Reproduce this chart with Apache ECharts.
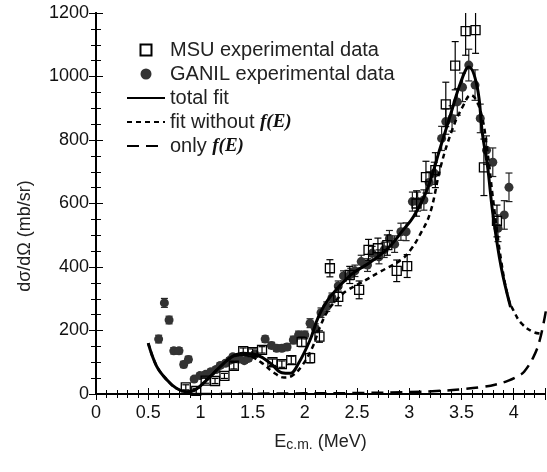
<!DOCTYPE html>
<html>
<head>
<meta charset="utf-8">
<script src="https://cdn.jsdelivr.net/npm/echarts@6/dist/echarts.min.js"></script>
<style>
  html, body { margin: 0; padding: 0; background: #fff; }
  #chart { width: 547px; height: 472px; }
</style>
</head>
<body>
<div id="chart"></div>
<script>
// [E (MeV), dsigma/dOmega (mb/sr), error]
var msuData = [
  [0.86, 21, 8], [0.96, 10, 8], [1.05, 42, 8], [1.14, 41, 8], [1.23, 57, 8],
  [1.32, 89, 10], [1.41, 135, 10], [1.50, 132, 10], [1.59, 139, 10], [1.69, 100, 10],
  [1.78, 94, 10], [1.87, 107, 12], [1.97, 164, 15], [2.05, 113, 15], [2.14, 181, 18],
  [2.24, 396, 27], [2.32, 306, 28], [2.43, 375, 27], [2.52, 328, 28], [2.61, 454, 33],
  [2.70, 459, 32], [2.79, 469, 32], [2.88, 388, 34], [2.98, 403, 36], [3.07, 600, 40],
  [3.16, 683, 50], [3.25, 705, 55], [3.35, 912, 70], [3.44, 1034, 76], [3.54, 1143, 76],
  [3.635, 1146, 73], [3.715, 714, 89], [3.84, 545, 50]
];

var ganilData = [
  [0.60, 173, 12], [0.655, 287, 14], [0.70, 233, 12], [0.745, 136, 10], [0.795, 136, 10],
  [0.84, 93, 10], [0.885, 109, 10], [0.94, 47, 8], [0.995, 58, 8], [1.05, 62, 8],
  [1.10, 70, 8], [1.15, 77, 8], [1.19, 90, 8], [1.24, 97, 8], [1.28, 106, 8],
  [1.31, 117, 8], [1.37, 110, 8], [1.42, 105, 8], [1.46, 112, 8], [1.52, 125, 8],
  [1.62, 173, 10], [1.68, 153, 10], [1.73, 144, 10], [1.78, 144, 10], [1.83, 148, 10],
  [1.89, 170, 12], [1.94, 186, 12], [2.00, 186, 12], [2.05, 223, 14], [2.10, 207, 14],
  [2.155, 256, 15], [2.21, 275, 15], [2.26, 303, 15], [2.32, 340, 16], [2.37, 372, 16],
  [2.44, 378, 18], [2.48, 388, 18], [2.54, 417, 20], [2.60, 406, 20], [2.645, 443, 22],
  [2.71, 432, 22], [2.76, 454, 24], [2.81, 490, 25], [2.86, 472, 26], [2.92, 511, 27],
  [2.97, 511, 28], [3.03, 606, 30], [3.08, 606, 30], [3.14, 611, 32], [3.19, 666, 34],
  [3.24, 695, 35], [3.31, 805, 38], [3.35, 858, 40], [3.41, 868, 40], [3.46, 920, 42],
  [3.51, 966, 45], [3.57, 1036, 50], [3.63, 973, 48], [3.68, 868, 45], [3.74, 768, 45],
  [3.80, 730, 45], [3.85, 522, 42], [3.91, 564, 45], [3.955, 651, 45]
];

var totalFit = [
  [0.50, 160], [0.58, 88], [0.68, 44], [0.77, 18], [0.87, 7], [0.95, 13], [1.06, 44],
  [1.19, 86], [1.30, 117], [1.41, 128], [1.54, 123], [1.67, 97], [1.78, 67], [1.86, 65],
  [1.94, 97], [2.05, 170], [2.13, 243], [2.24, 305], [2.44, 375], [2.63, 416], [2.80, 460],
  [2.94, 516], [3.04, 558], [3.17, 643], [3.30, 779], [3.40, 885], [3.49, 979], [3.57, 1030],
  [3.65, 968], [3.70, 822], [3.75, 716], [3.80, 570], [3.88, 400], [3.97, 274]
];

var fitWithoutF = [
  [0.50, 160], [0.58, 88], [0.68, 44], [0.77, 18], [0.87, 7], [0.95, 13], [1.06, 44],
  [1.19, 86], [1.30, 115], [1.41, 124], [1.50, 116], [1.60, 95], [1.70, 68], [1.80, 52],
  [1.88, 58], [1.97, 88], [2.07, 145], [2.15, 215], [2.22, 262], [2.30, 295], [2.40, 325],
  [2.53, 349], [2.72, 385], [2.92, 422], [3.01, 453], [3.10, 500], [3.20, 570], [3.30, 715],
  [3.41, 831], [3.51, 904], [3.59, 942], [3.68, 894], [3.75, 760], [3.80, 620], [3.88, 420],
  [3.95, 300], [4.00, 262], [4.07, 224], [4.19, 195], [4.28, 190]
];

var onlyF = [
  [1.00, 0], [1.50, 1], [2.00, 2], [2.50, 3], [3.00, 6], [3.30, 10], [3.50, 15],
  [3.70, 22], [3.84, 31], [3.95, 42], [4.05, 58], [4.10, 70], [4.19, 117], [4.25, 170], [4.31, 265]
];

var xLabels = ['0', '0.5', '1', '1.5', '2', '2.5', '3', '3.5', '4'];

var chart = echarts.init(document.getElementById('chart'), null, { renderer: 'canvas' });

var axisFont = 'Liberation Sans, Arial, Helvetica, sans-serif';

function errorBar(color) {
  return function (params, api) {
    var x = api.value(0), y = api.value(1), e = api.value(2);
    var top = api.coord([x, y + e]);
    var bot = api.coord([x, y - e]);
    var cs = params.coordSys;
    var yTop = Math.max(top[1], cs.y);
    var yBot = Math.min(bot[1], cs.y + cs.height);
    var hw = 3.5;
    var st = { stroke: color, lineWidth: 1.2 };
    var children = [
      { type: 'line', shape: { x1: top[0], y1: yTop, x2: top[0], y2: yBot }, style: st }
    ];
    if (top[1] >= cs.y) {
      children.push({ type: 'line', shape: { x1: top[0] - hw, y1: top[1], x2: top[0] + hw, y2: top[1] }, style: st });
    }
    children.push({ type: 'line', shape: { x1: bot[0] - hw, y1: yBot, x2: bot[0] + hw, y2: yBot }, style: st });
    return { type: 'group', children: children };
  };
}

var frameAxis = { lineStyle: { color: '#000', width: 2 } };
var noSymbol = { color: 'rgba(0,0,0,0)' };

var option = {
  animation: false,
  backgroundColor: '#fff',
  grid: { left: 96, right: 2, top: 13, bottom: 78, containLabel: false },
  legend: {
    orient: 'vertical',
    left: 126,
    top: 40,
    padding: 0,
    itemWidth: 38,
    itemHeight: 11,
    itemGap: 4,
    data: [
      { name: 'MSU experimental data', icon: 'path://M0,0L10,0L10,10L0,10Z' },
      { name: 'GANIL experimental data', icon: 'circle' },
      'total fit',
      'fit without f(E)',
      'only f(E)'
    ],
    formatter: function (name) {
      if (name === 'fit without f(E)') return 'fit without {f|f(E)}';
      if (name === 'only f(E)') return 'only {f|f(E)}';
      return name;
    },
    textStyle: {
      fontFamily: axisFont,
      fontSize: 20,
      lineHeight: 19,
      color: '#222',
      rich: {
        f: {
          fontFamily: 'Liberation Serif, DejaVu Serif, serif',
          fontWeight: 'bold',
          fontStyle: 'italic',
          fontSize: 19,
          color: '#111'
        }
      }
    }
  },
  xAxis: [{
    type: 'value',
    min: 0,
    max: 4.3,
    interval: 0.5,
    position: 'bottom',
    name: '{e|E}{s|c.m.}{e| (MeV)}',
    nameLocation: 'middle',
    nameGap: 38,
    nameTextStyle: {
      rich: {
        e: { fontFamily: axisFont, fontSize: 18, color: '#222', lineHeight: 20 },
        s: { fontFamily: axisFont, fontSize: 14, color: '#222', lineHeight: 6, verticalAlign: 'bottom' }
      }
    },
    axisLine: frameAxis,
    axisTick: { inside: true, length: 6, lineStyle: { color: '#000', width: 1 } },
    minorTick: { show: true, splitNumber: 5, length: 4, lineStyle: { color: '#000', width: 1 } },
    splitLine: { show: false },
    axisLabel: {
      showMaxLabel: false,
      margin: 10,
      fontFamily: axisFont,
      fontSize: 18,
      color: '#111',
      formatter: function (v) { return xLabels[Math.round(v * 2)]; }
    }
  }, {
    type: 'value',
    min: 0,
    max: 4.3,
    interval: 0.5,
    position: 'top',
    axisLine: frameAxis,
    axisTick: { inside: true, length: 6, lineStyle: { color: '#000', width: 1 } },
    minorTick: { show: true, splitNumber: 5, length: 4, lineStyle: { color: '#000', width: 1 } },
    splitLine: { show: false },
    axisLabel: { show: false }
  }],
  yAxis: [{
    type: 'value',
    min: 0,
    max: 1200,
    interval: 200,
    position: 'left',
    axisLine: frameAxis,
    axisTick: { inside: true, length: 7, lineStyle: { color: '#000', width: 1 } },
    minorTick: { show: true, splitNumber: 4, length: 5, lineStyle: { color: '#000', width: 1 } },
    splitLine: { show: false },
    axisLabel: {
      margin: 7, fontFamily: axisFont, fontSize: 18, color: '#111',
      formatter: function (v) { return String(v); }
    }
  }, {
    type: 'value',
    min: 0,
    max: 1200,
    interval: 200,
    position: 'right',
    axisLine: frameAxis,
    axisTick: { inside: true, length: 7, lineStyle: { color: '#000', width: 1 } },
    minorTick: { show: true, splitNumber: 4, length: 5, lineStyle: { color: '#000', width: 1 } },
    splitLine: { show: false },
    axisLabel: { show: false }
  }],
  graphic: [{
    type: 'text',
    x: 25,
    y: 236,
    rotation: Math.PI / 2,
    style: {
      text: 'dσ/dΩ (mb/sr)',
      font: '18px ' + axisFont,
      fill: '#222',
      textAlign: 'center',
      textVerticalAlign: 'middle'
    }
  }],
  series: [{
    name: 'GANIL error',
    type: 'custom',
    renderItem: errorBar('#222'),
    encode: { x: 0, y: 1 },
    data: ganilData,
    z: 2
  }, {
    name: 'GANIL experimental data',
    type: 'scatter',
    symbol: 'circle',
    symbolSize: 9,
    itemStyle: { color: '#333', opacity: 1 },
    data: ganilData.map(function (d) { return [d[0], d[1]]; }),
    z: 3
  }, {
    name: 'MSU experimental data',
    type: 'scatter',
    symbol: 'rect',
    symbolSize: 9,
    itemStyle: { color: 'rgba(255,255,255,0)', borderColor: '#000', borderWidth: 1.3, opacity: 1 },
    data: msuData.map(function (d) { return [d[0], d[1]]; }),
    z: 4
  }, {
    name: 'MSU error',
    type: 'custom',
    renderItem: errorBar('#000'),
    encode: { x: 0, y: 1 },
    data: msuData,
    z: 5
  }, {
    name: 'total fit',
    type: 'line',
    smooth: 0.4,
    symbol: 'none',
    lineStyle: { color: '#000', width: 3 },
    itemStyle: noSymbol,
    data: totalFit,
    z: 6
  }, {
    name: 'fit without f(E)',
    type: 'line',
    smooth: 0.4,
    symbol: 'none',
    lineStyle: { color: '#000', width: 2.5, type: [5, 4] },
    itemStyle: noSymbol,
    data: fitWithoutF,
    z: 6
  }, {
    name: 'only f(E)',
    type: 'line',
    smooth: 0.4,
    symbol: 'none',
    lineStyle: { color: '#000', width: 2.5, type: [12, 7] },
    itemStyle: noSymbol,
    data: onlyF,
    z: 6
  }]
};

chart.setOption(option);
</script>
</body>
</html>
